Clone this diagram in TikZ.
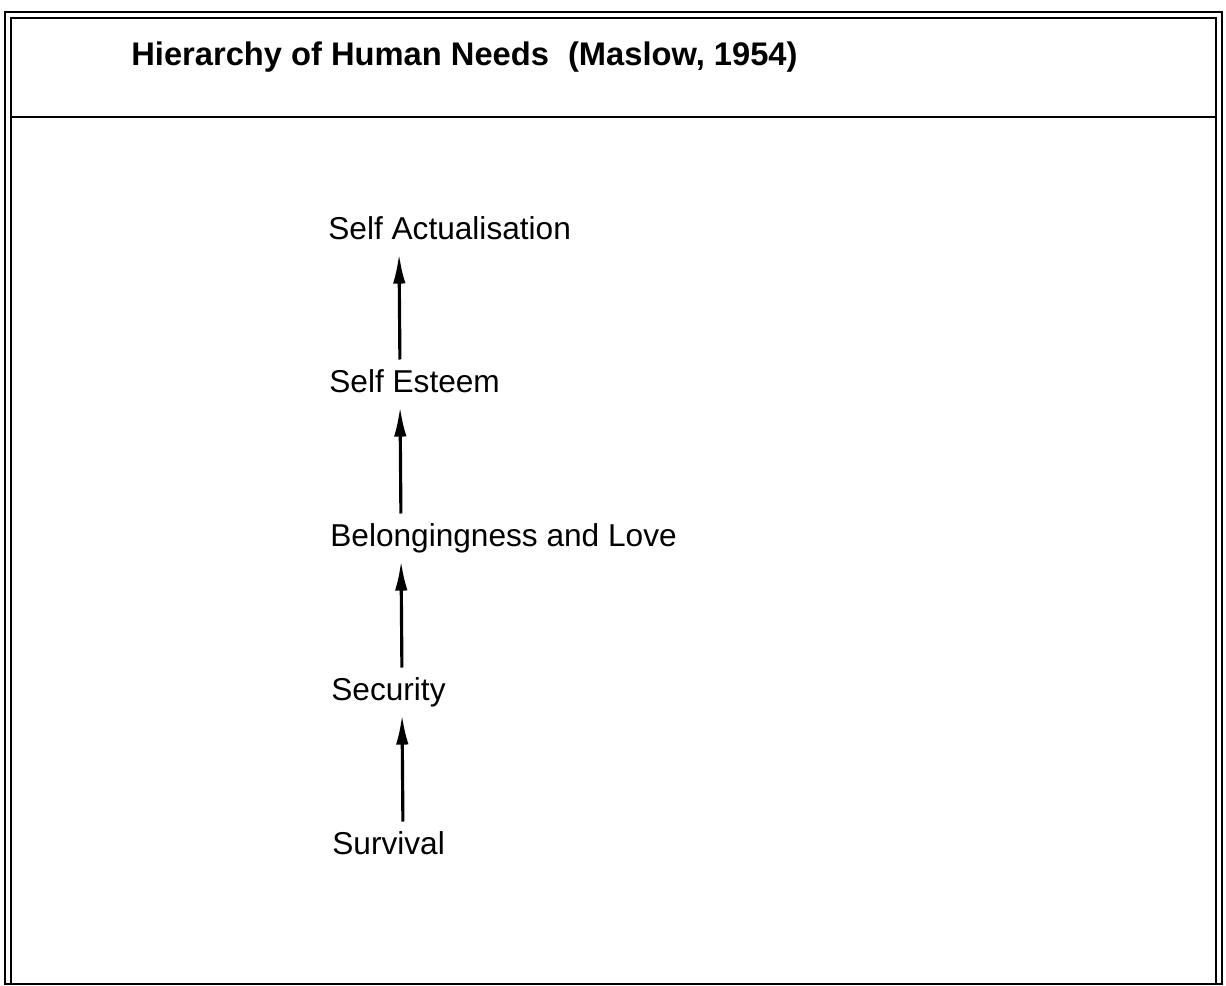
\documentclass[tikz,border=0pt]{standalone}
\usepackage{fontspec}
\setmainfont{Liberation Sans}
\usetikzlibrary{arrows.meta,positioning}
\tikzset{
  >={Latex[length=6mm,width=2.5mm]},
  up/.style={->,draw=black,line width=1.8pt,shorten <=0.19cm,shorten >=0.15cm},
  frameout/.style={draw=black,line width=1.2pt},
  framein/.style={draw=black,line width=0.8pt},
  titletext/.style={font=\fontsize{18.6}{22}\selectfont\bfseries,inner sep=0pt,anchor=base west},
  need/.style={font=\fontsize{18}{22}\selectfont,inner sep=0pt,anchor=base west,text height=12.9pt,text depth=3.8pt},
}
\begin{document}
\begin{tikzpicture}[x=0.02cm,y=-0.02cm]
\useasboundingbox (0,0) rectangle (1226,985);

% frame -----------------------------------------------------------------------
\draw[frameout] (5,12) rectangle (1222,984);
\draw[framein] (11,18) rectangle (1216,984);
\draw[frameout] (11,117) -- (1216,117);

% title -----------------------------------------------------------------------
\node[titletext] (title) at (131,65) {Hierarchy of Human Needs\hspace{0.2cm} (Maslow, 1954)};

% needs -----------------------------------------------------------------------
\node[need] (actual) at (328,239) {Self Actualisation};
\node[need] (esteem) at (329,392) {Self Esteem};
\node[need] (belong) at (330,546) {Belongingness and Love};
\node[need] (secur) at (331,700) {Security};
\node[need] (surv) at (332,854) {Survival};

\draw[up] ([xshift=1.42cm]surv.north west) -- ([xshift=1.42cm]secur.south west);
\draw[up] ([xshift=1.42cm]secur.north west) -- ([xshift=1.42cm]belong.south west);
\draw[up] ([xshift=1.42cm]belong.north west) -- ([xshift=1.42cm]esteem.south west);
\draw[up] ([xshift=1.42cm]esteem.north west) -- ([xshift=1.42cm]actual.south west);

\end{tikzpicture}
\end{document}
